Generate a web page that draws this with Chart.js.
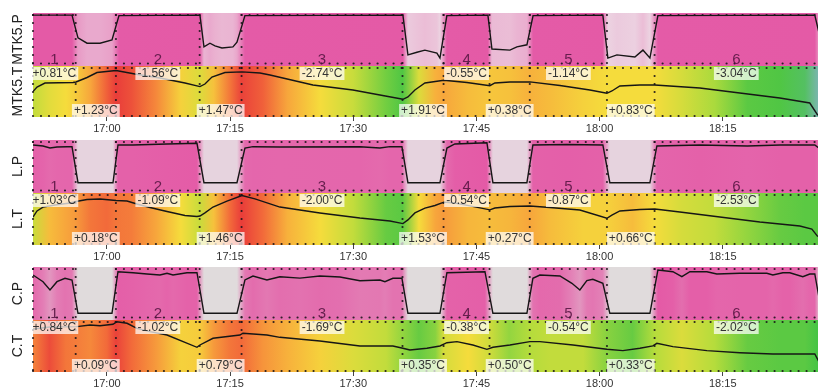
<!DOCTYPE html>
<html>
<head>
<meta charset="utf-8">
<script src="https://cdn.jsdelivr.net/npm/chart.js@4.4.1/dist/chart.umd.min.js"></script>
<style>
  body { margin: 0; background: #fff; width: 819px; height: 388px; overflow: hidden; position: relative; }
  canvas { position: absolute; left: 0; }
</style>
</head>
<body>
<script>
// time axis in minutes after 16:00
const tickTimes  = [60, 75, 90, 105, 120, 135];
const tickLabels = ['17:00', '17:15', '17:30', '17:45', '18:00', '18:15'];

// run / rest boundaries (active runs are the even segments)
const segEdges  = [51, 56.2, 61.1, 71.3, 76.4, 96.0, 101.0, 106.6, 111.5, 120.9, 126.7, 146.6];
const runLabels = ['1', '2', '3', '4', '5', '6'];

// sample times of the temperature heat strip
const heatTimes = [51, 53, 55, 56.2, 58, 60, 61.1, 63, 66, 69, 71.3, 73, 75, 76.4, 79, 82, 86, 90, 94, 96,
                   98, 100, 101, 104, 106.6, 109, 111.5, 114, 118, 120.9, 124, 126.7, 130, 134, 138, 142, 145, 146.6];

// MTK5
const mtk5P = [[51,96],[55.75,96],[56.48,53],[57.58,43],[59.16,43],[60.62,49],[61.47,95],[71.33,96],[71.82,36],
  [72.55,43],[73.16,38],[74.01,34],[75.35,36],[75.84,45],[76.81,95],[96.05,96],[96.66,21],[97.76,26],[98.73,30],
  [100.19,24.5],[100.56,15],[101.4,95],[106.4,96],[106.89,32],[109.08,30],[109.93,36],[111.15,40],[111.9,95],
  [120.4,96],[121.01,15],[122.11,21],[124.3,17],[125.28,30],[126.13,15],[127.1,95],[146.21,96],[146.7,64]];
const mtk5T = [[51,32.55],[51.49,33.0],[52.46,33.4],[55.87,33.45],[56.24,33.5],[57.58,33.95],[58.79,34.45],
  [61.11,34.65],[63.42,34.3],[66.46,33.9],[69.51,33.4],[71.33,33.04],[71.94,33.3],[72.79,34.0],[74.38,34.45],
  [76.45,34.51],[78.64,34.4],[79.86,34.2],[85.09,33.2],[89.96,32.7],[93.25,32.2],[96.05,31.77],[96.66,32.0],
  [97.51,32.7],[98.73,33.4],[101.04,33.68],[103.85,33.45],[106.64,33.13],[107.25,33.4],[109.08,33.5],
  [111.51,33.51],[115.17,33.15],[118.82,32.7],[120.89,32.37],[121.5,32.6],[122.47,33.1],[124.91,33.2],
  [126.73,33.2],[132.21,32.9],[137.08,32.4],[141.95,31.9],[145.6,31.4],[146.58,30.16]];
const mtk5Heat = [2.2,2.7,3.0,3.3,4.0,5.2,5.9,5.5,4.5,3.2,2.6,3.5,4.8,5.8,5.2,4.0,3.0,2.3,1.4,1.1,
  2.6,3.8,4.0,3.6,3.4,3.5,3.8,3.6,3.2,3.0,3.0,3.0,2.5,1.9,1.2,1.1,0.8,0.3];
const mtk5Delta = ['+0.81°C','+1.23°C','-1.56°C','+1.47°C','-2.74°C','+1.91°C','-0.55°C','+0.38°C','-1.14°C','+0.83°C','-3.04°C'];

// L
const lP = [[51,90.6],[52.22,88.7],[53.07,84.9],[53.92,86.8],[55.14,87.4],[55.75,87.4],[56.48,19.4],[60.74,19.4],
  [61.35,90.6],[63.18,90.6],[67.32,92.5],[70.97,93.8],[71.82,19.4],[75.84,19.4],[76.81,84.9],[77.79,87.4],
  [81.07,86.8],[90.81,87.4],[93.25,84.9],[94.47,87.4],[95.93,87.4],[96.66,19.4],[100.56,19.4],[101.41,84.9],
  [102.38,92.5],[106.28,94.9],[107.01,19.4],[111.15,19.4],[111.88,90.6],[116,91.5],[120.4,90.6],[121.25,19.4],
  [126.13,19.4],[126.98,88.7],[132.21,90.6],[138,88.7],[142,90.6],[146.21,90.6],[146.7,85]];
const lT = [[51,40.0],[51.49,40.43],[52.22,40.71],[53.68,40.86],[55.51,41.0],[56.24,41.11],[57.58,41.25],
  [59.16,41.29],[61.11,41.18],[62.45,41.14],[63.66,40.93],[65.25,40.68],[67.32,40.39],[69.51,40.11],[70.97,40.04],
  [71.33,40.07],[71.94,40.29],[72.92,40.71],[74.62,41.14],[76.45,41.53],[78.03,41.29],[81.07,40.71],[85.94,40.29],
  [90.81,39.93],[94.47,39.71],[96.05,39.53],[96.66,39.79],[97.51,40.29],[98.73,40.64],[99.95,40.82],[101.04,41.06],
  [102.38,41.0],[104.21,40.79],[106.64,40.51],[107.25,40.64],[109.08,40.75],[111.51,40.79],[113.95,40.68],
  [117.6,40.5],[120.89,39.91],[121.5,40.14],[122.47,40.43],[124.91,40.54],[126.73,40.57],[129.78,40.36],
  [134.65,40.0],[139.52,39.64],[144.39,39.36],[145.85,39.14],[146.58,38.6]];
const lHeat = [2.3,3.6,4.0,4.2,4.8,5.0,4.8,4.7,4.0,3.0,2.3,3.5,5.0,5.9,5.0,3.8,3.0,2.2,1.3,1.2,
  3.0,4.0,4.2,3.7,3.6,3.7,4.0,3.6,3.2,3.2,3.6,3.0,2.5,2.2,1.7,1.3,1.2,1.2];
const lDelta = ['+1.03°C','+0.18°C','-1.09°C','+1.46°C','-2.00°C','+1.53°C','-0.54°C','+0.27°C','-0.87°C','+0.66°C','-2.53°C'];

// C
const cP = [[51,84.9],[52.22,72.3],[53.07,56.6],[53.92,72.3],[54.9,78.7],[55.75,75.5],[56.48,12.6],[60.62,12.6],
  [61.35,91.1],[63.18,89.2],[64.88,86.8],[66.46,84.9],[67.32,88.1],[68.05,84.9],[69.75,89.2],[70.97,89.2],
  [71.82,12.6],[75.84,12.6],[76.81,75.5],[77.79,83],[79.49,75.5],[81.07,81.7],[83.51,79],[85.94,83],[88.38,81],
  [90.81,74.2],[93.25,75.5],[93.86,72.3],[94.83,78.7],[95.93,78.7],[96.66,12.6],[100.56,12.6],[101.41,89.2],
  [106.04,91.1],[107.01,12.6],[111.15,12.6],[111.88,78.7],[112.73,84.9],[115.17,83],[116.63,69.2],[117.6,56.6],
  [118.45,74.2],[119.18,76.8],[120.4,69.2],[121.25,12.6],[126.13,12.6],[127.1,94.3],[128.93,91.1],[130.02,81.7],
  [131,91.1],[133.07,91.1],[134.28,86.8],[137.08,88.1],[140.37,88.1],[141.1,84.9],[142.32,89.2],[143.17,89.2],
  [144.75,81.7],[145.6,86.8],[146.21,86.8],[146.7,44]];
const cT = [[51,37.58],[53.07,37.75],[56.36,37.78],[57.94,37.92],[59.16,37.86],[60.74,37.98],[61.23,38.19],
  [62.45,38.06],[63.66,37.64],[65.25,37.36],[67.32,37.08],[70.97,36.06],[71.33,36.25],[72.92,36.81],[76.2,37.08],
  [76.57,37.23],[79.49,37.08],[81.07,36.89],[85.94,36.58],[90.81,36.17],[94.83,36.17],[96.05,35.98],[96.9,35.83],
  [98.97,35.98],[100.56,36.17],[101.41,36.44],[102.63,36.53],[104.57,36.25],[106.28,35.89],[107.01,36.06],
  [109.08,36.25],[111.51,36.53],[112.73,36.53],[116.76,36.25],[120.89,35.89],[122.84,35.78],[124.91,35.98],
  [126.49,36.17],[126.98,36.39],[128.93,36.11],[133.07,35.78],[137.08,35.61],[141.1,35.5],[145.24,35.5],
  [146.21,35.5],[146.7,34.86]];
const cHeat = [4.6,5.6,4.8,4.7,4.5,5.0,5.8,5.0,4.2,3.2,3.3,4.2,4.8,5.0,4.3,3.8,3.2,2.6,2.2,1.7,
  1.3,1.6,2.5,3.0,2.4,1.7,2.0,2.2,2.2,1.6,1.3,2.0,2.6,2.0,1.3,1.2,1.2,1.0];
const cDelta = ['+0.84°C','+0.09°C','-1.02°C','+0.79°C','-1.69°C','+0.35°C','-0.38°C','+0.50°C','-0.54°C','+0.33°C','-2.02°C'];

const panels = [
  { top: 13,  h: 53, kind: 'P', title: 'MTK5.P', data: mtk5P, min: 0,  max: 100,    low: '#ecd3e1' },
  { top: 66,  h: 51, kind: 'T', title: 'MTK5.T', data: mtk5T, min: 30, max: 35.1,   heat: mtk5Heat, delta: mtk5Delta },
  { top: 140, h: 53, kind: 'P', title: 'L.P',    data: lP,    min: 0,  max: 100,    low: '#e6d3de' },
  { top: 193, h: 52, kind: 'T', title: 'L.T',    data: lT,    min: 38, max: 41.714, heat: lHeat, delta: lDelta },
  { top: 267, h: 53, kind: 'P', title: 'C.P',    data: cP,    min: 0,  max: 100,    low: '#e0dbdc' },
  { top: 320, h: 52, kind: 'T', title: 'C.T',    data: cT,    min: 34, max: 38.333, heat: cHeat, delta: cDelta }
];

const HIGH = '#e45aa6';
const heatPalette = ['#8fb0d8', '#45c445', '#b5dc3c', '#f5dc3c', '#f7a63c', '#f26a3a', '#e8383a'];
const FONT = '"Liberation Sans", Arial, sans-serif';
const AXIS_H = 19;

function hex(c) { return [1, 3, 5].map(i => parseInt(c.slice(i, i + 2), 16)); }
function mix(a, b, f) {
  const A = hex(a), B = hex(b);
  f = Math.max(0, Math.min(1, f));
  return 'rgb(' + A.map((v, i) => Math.round(v + (B[i] - v) * f)).join(',') + ')';
}
function heatColor(l) {
  const i = Math.max(0, Math.min(5, Math.floor(l)));
  return mix(heatPalette[i], heatPalette[i + 1], l - i);
}
function dots(ctx, x1, y1, x2, y2) {
  ctx.beginPath(); ctx.moveTo(x1, y1); ctx.lineTo(x2, y2); ctx.stroke();
}

function makePlugin(p) {
  return {
    id: 'strip',
    beforeDatasetsDraw(chart) {
      const { ctx, chartArea: a, scales: { x } } = chart;
      const pos = t => Math.min(1, Math.max(0, (x.getPixelForValue(t) - a.left) / (a.right - a.left)));
      const g = ctx.createLinearGradient(a.left, 0, a.right, 0);
      if (p.kind === 'P') {
        const vals = p.data.map(d => d[1]);
        const lo = Math.min(...vals), hi = Math.max(...vals);
        p.data.forEach(([t, v]) => g.addColorStop(pos(t), mix(p.low, HIGH, (v - lo) / (hi - lo))));
      } else {
        heatTimes.forEach((t, i) => g.addColorStop(pos(t), heatColor(p.heat[i])));
      }
      ctx.save();
      ctx.fillStyle = g;
      ctx.fillRect(a.left, a.top, a.right - a.left, a.bottom - a.top);

      ctx.setLineDash([0, 8]);
      ctx.lineCap = 'round';
      ctx.lineWidth = 2.2;
      ctx.strokeStyle = 'rgba(25,20,25,0.9)';
      for (let i = 0; i < segEdges.length - 1; i++) {
        const x0 = x.getPixelForValue(segEdges[i]), x1 = x.getPixelForValue(segEdges[i + 1]);
        dots(ctx, x0, a.top + 2, x0, a.bottom - 1);
        if (p.kind === 'P') {
          if (i % 2 === 0) {
            dots(ctx, x0, a.top + 2, x1, a.top + 2);
            dots(ctx, x0, a.bottom - 2.5, x1, a.bottom - 2.5);
          }
        } else {
          dots(ctx, x0, a.top + 2, x1, a.top + 2);
          dots(ctx, x0, a.bottom - 1, x1, a.bottom - 1);
        }
      }
      ctx.restore();
    },
    afterDatasetsDraw(chart) {
      const { ctx, chartArea: a, scales: { x } } = chart;
      ctx.save();
      ctx.textAlign = 'center';
      for (let i = 0; i < segEdges.length - 1; i++) {
        const cx = (x.getPixelForValue(segEdges[i]) + x.getPixelForValue(segEdges[i + 1])) / 2;
        if (p.kind === 'P') {
          if (i % 2 === 0) {
            ctx.font = '15px ' + FONT;
            ctx.textBaseline = 'alphabetic';
            ctx.fillStyle = 'rgba(85,20,65,0.88)';
            ctx.fillText(runLabels[i / 2], cx, a.bottom - 2);
          }
        } else {
          ctx.font = '12px ' + FONT;
          ctx.textBaseline = 'middle';
          const txt = p.delta[i];
          const w = ctx.measureText(txt).width + 4, h = 13;
          const y0 = i % 2 === 0 ? a.top + 1 : a.bottom - h;
          ctx.fillStyle = 'rgba(255,255,255,0.72)';
          ctx.fillRect(cx - w / 2, y0, w, h);
          ctx.fillStyle = '#333';
          ctx.fillText(txt, cx, y0 + h / 2 + 0.5);
        }
      }
      ctx.restore();
    }
  };
}

Chart.defaults.font.family = FONT;

panels.forEach(p => {
  const isT = p.kind === 'T';
  const canvas = document.createElement('canvas');
  const ch = p.h + (isT ? AXIS_H : 0);
  canvas.width = 819;
  canvas.height = ch;
  canvas.style.top = p.top + 'px';
  canvas.style.width = '819px';
  canvas.style.height = ch + 'px';
  document.body.appendChild(canvas);

  const xScale = {
    type: 'linear',
    min: 51,
    max: 146.6,
    display: isT,
    border: { display: false },
    grid: { display: true, drawOnChartArea: false, drawTicks: true, tickLength: 4, color: '#444' },
    ticks: {
      color: '#333',
      font: { size: 11 },
      padding: 1,
      maxRotation: 0,
      autoSkip: false,
      callback: v => tickLabels[tickTimes.indexOf(v)]
    },
    afterBuildTicks: s => { s.ticks = tickTimes.map(v => ({ value: v })); }
  };
  if (isT) xScale.afterFit = s => { s.height = AXIS_H; };

  new Chart(canvas, {
    type: 'line',
    data: {
      datasets: [{
        data: p.data.map(([t, v]) => ({ x: t, y: v })),
        borderColor: '#161616',
        borderWidth: 1.4,
        pointRadius: 0,
        tension: 0,
        fill: false
      }]
    },
    options: {
      responsive: false,
      animation: false,
      events: [],
      layout: { padding: { left: 0, right: 1, top: 0, bottom: 0 }, autoPadding: false },
      plugins: { legend: { display: false }, tooltip: { enabled: false } },
      scales: {
        x: xScale,
        y: {
          min: p.min,
          max: p.max,
          border: { display: false },
          grid: { display: false },
          ticks: { display: false },
          title: {
            display: true,
            text: p.title,
            color: '#222',
            font: { size: 14 },
            padding: { top: 10, bottom: 0 }
          },
          afterFit: s => { s.width = 33; }
        }
      }
    },
    plugins: [makePlugin(p)]
  });
});
</script>
</body>
</html>
